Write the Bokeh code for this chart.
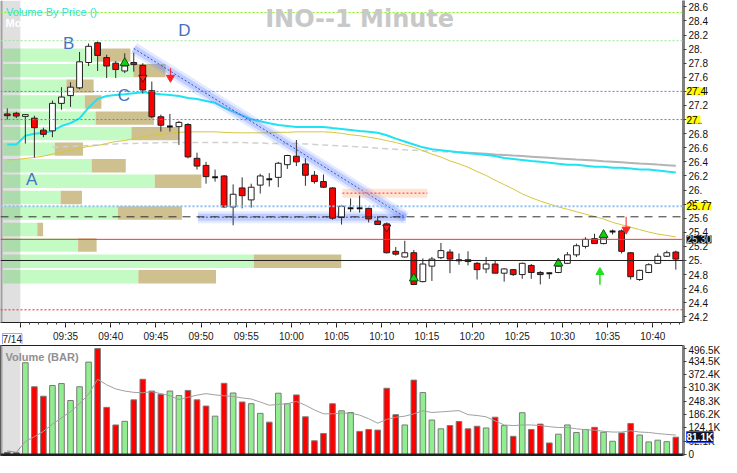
import math
from bokeh.plotting import figure
from bokeh.layouts import column
from bokeh.models import Range1d, FixedTicker, Span, Label
from bokeh.embed import file_html
from bokeh.resources import INLINE
from bokeh.core.properties import value

FONT = "Liberation Sans"

# ---------------- data (1-minute bars, first bar 09:28, INO 7/14) ----------------
opens = [27.08, 27.09, 27.045, 27.02, 26.85, 26.84, 27.23, 27.34, 27.45, 27.81,
         28.09, 27.88, 27.80, 27.69, 27.81, 27.77, 27.41, 27.04, 26.90, 26.90,
         26.93, 26.45, 26.35, 26.18, 26.20, 25.76, 26.03, 25.86, 26.07, 26.155,
         26.18, 26.36, 26.48, 26.37, 26.21, 26.12, 26.03, 25.61, 25.74, 25.745,
         25.74, 25.56, 25.52, 25.13, 25.05, 25.11, 24.70, 24.92, 25.04, 25.12,
         25.005, 25.01, 24.96, 24.88, 24.95, 24.82, 24.87, 24.80, 24.93, 24.83,
         24.82, 24.83, 24.96, 25.08, 25.20, 25.31, 25.24, 25.41, 25.42, 25.11,
         24.73, 24.83, 24.96, 25.06, 25.12]
highs = [27.16, 27.11, 27.07, 27.055, 26.885, 27.27, 27.46, 27.53, 27.96, 28.08,
         28.11, 27.92, 27.83, 27.94, 27.95, 27.80, 27.54, 27.07, 27.08, 26.98,
         26.95, 26.53, 26.40, 26.29, 26.21, 26.08, 26.18, 26.09, 26.23, 26.24,
         26.40, 26.50, 26.71, 26.45, 26.27, 26.22, 26.04, 25.79, 25.88, 25.92,
         25.75, 25.63, 25.54, 25.19, 25.28, 25.15, 25.03, 25.05, 25.25, 25.16,
         25.10, 25.13, 24.98, 25.05, 25.00, 24.89, 24.88, 24.97, 24.95, 24.85,
         24.83, 24.94, 25.12, 25.24, 25.33, 25.38, 25.42, 25.44, 25.44, 25.12,
         24.87, 24.96, 25.10, 25.14, 25.14]
lows = [27.00, 27.02, 26.66, 26.46, 26.75, 26.75, 27.14, 27.18, 27.43, 27.76,
        27.69, 27.59, 27.59, 27.66, 27.68, 27.37, 27.02, 26.83, 26.83, 26.64,
        26.45, 26.29, 26.09, 26.12, 25.75, 25.50, 25.74, 25.75, 25.95, 26.05,
        26.04, 26.30, 26.34, 26.06, 26.09, 26.03, 25.58, 25.51, 25.69, 25.68,
        25.54, 25.51, 25.10, 25.07, 25.04, 24.65, 24.69, 24.71, 25.02, 24.82,
        24.94, 24.93, 24.73, 24.82, 24.82, 24.70, 24.78, 24.74, 24.74, 24.66,
        24.74, 24.82, 24.95, 25.05, 25.17, 25.24, 25.23, 25.37, 25.10, 24.73,
        24.71, 24.82, 24.95, 25.05, 24.87]
closes = [27.055, 27.05, 27.07, 26.885, 26.79, 27.23, 27.32, 27.46, 27.82, 28.04,
          27.91, 27.76, 27.71, 27.76, 27.78, 27.42, 27.04, 26.92, 26.905, 26.96,
          26.47, 26.34, 26.19, 26.185, 25.76, 25.94, 25.92, 26.04, 26.20, 26.15,
          26.38, 26.49, 26.40, 26.21, 26.12, 26.04, 25.60, 25.77, 25.745, 25.74,
          25.59, 25.51, 25.11, 25.09, 25.11, 24.66, 24.95, 25.02, 25.14, 25.02,
          25.00, 24.985, 24.87, 24.95, 24.82, 24.88, 24.80, 24.96, 24.83, 24.80,
          24.815, 24.92, 25.08, 25.21, 25.30, 25.24, 25.32, 25.415, 25.13, 24.77,
          24.86, 24.94, 25.06, 25.11, 25.02]
volumes_k = [10, 8, 428, 316, 272, 322, 331, 252, 316, 431,
             494, 220, 138, 155, 255, 351, 296, 281, 296, 275,
             299, 255, 226, 179, 332, 287, 245, 237, 192, 151,
             286, 237, 278, 176, 64, 98, 237, 204, 196, 108,
             117, 114, 309, 186, 138, 347, 289, 161, 120, 135,
             154, 120, 132, 124, 174, 135, 85, 195, 117, 142,
             54, 95, 138, 103, 117, 127, 104, 62, 101, 145,
             91, 59, 67, 60, 81.1]
volume_ma_k = [17, 10, 61, 83, 108, 142, 171, 200, 237, 281,
               351, 325, 306, 296, 290, 288, 293, 284, 274, 256,
               267, 277, 284, 278, 274, 271, 264, 259, 245, 230,
               234, 237, 248, 230, 208, 190, 190, 193, 193, 184,
               167, 146, 164, 174, 179, 190, 204, 196, 199, 202,
               205, 186, 182, 176, 157, 138, 135, 138, 138, 135,
               130, 126, 126, 120, 116, 114, 108, 105, 105, 111,
               105, 103, 98, 94, 91]
ma_cyan = [26.647, 26.647, 26.771, 26.798, 26.812, 26.839, 26.908, 26.949, 27.018, 27.169,
           27.293, 27.334, 27.348, 27.361, 27.375, 27.389, 27.375, 27.361, 27.348, 27.334,
           27.306, 27.293, 27.265, 27.238, 27.169, 27.114, 27.059, 27.004, 26.977, 26.949,
           26.922, 26.908, 26.894, 26.894, 26.894, 26.894, 26.880, 26.867, 26.853, 26.839,
           26.826, 26.812, 26.778, 26.729, 26.688, 26.647, 26.606, 26.578, 26.565, 26.551,
           26.537, 26.523, 26.510, 26.496, 26.482, 26.455, 26.441, 26.427, 26.413, 26.400,
           26.386, 26.372, 26.359, 26.359, 26.345, 26.331, 26.331, 26.317, 26.317, 26.304,
           26.290, 26.290, 26.276, 26.262, 26.249]
ma_yellow = [26.427, 26.434, 26.448, 26.462, 26.482, 26.510, 26.537, 26.565, 26.592, 26.620,
             26.633, 26.661, 26.688, 26.702, 26.729, 26.757, 26.777, 26.791, 26.805, 26.819,
             26.826, 26.826, 26.826, 26.826, 26.819, 26.812, 26.812, 26.812, 26.812, 26.812,
             26.819, 26.819, 26.826, 26.826, 26.826, 26.826, 26.819, 26.805, 26.784, 26.771,
             26.750, 26.729, 26.702, 26.674, 26.640, 26.606, 26.558, 26.510, 26.468, 26.413,
             26.372, 26.324, 26.262, 26.207, 26.139, 26.077, 26.015, 25.946, 25.891, 25.843,
             25.802, 25.761, 25.727, 25.692, 25.658, 25.624, 25.589, 25.541, 25.507, 25.473,
             25.438, 25.404, 25.376, 25.356, 25.335]
ma_grey = [float("nan")] * 5 + [
    26.606, 26.613, 26.620, 26.626, 26.633, 26.640, 26.647, 26.654, 26.661, 26.661,
    26.668, 26.668, 26.674, 26.674, 26.674, 26.674, 26.674, 26.674, 26.674, 26.674,
    26.674, 26.674, 26.668, 26.668, 26.661, 26.661, 26.661, 26.661, 26.654, 26.647,
    26.640, 26.633, 26.626, 26.620, 26.613, 26.606, 26.592, 26.585, 26.578, 26.571,
    26.565, 26.558, 26.551, 26.544, 26.537, 26.537, 26.530, 26.522, 26.514, 26.505,
    26.499, 26.490, 26.482, 26.474, 26.466, 26.457, 26.449, 26.441, 26.433, 26.426,
    26.418, 26.409, 26.401, 26.393, 26.385, 26.376, 26.370, 26.361, 26.353, 26.345]

# volume by price (thousand shares per price row: up / down)
vbp_price = [27.915, 27.695, 27.475, 27.25, 27.02, 26.80, 26.58, 26.345,
             26.125, 25.895, 25.675, 25.44, 25.22, 24.99, 24.77]
vbp_up_k = [630, 871, 423, 546, 618, 858, 345, 592, 1014, 384, 767, 228, 501, 1677, 904]
vbp_down_k = [221, 215, 182, 111, 390, 319, 189, 228, 312, 143, 429, 39, 124, 585, 520]

# horizontal levels
level_prices = [28.52, 28.12, 27.4, 27.0, 25.77, 25.62, 25.3, 25.0, 24.3]
# trend lines (bar index, price)
trend_diag = ([14.0, 44.1], [28.01, 25.61])
trend_flat = ([21.1, 44.1], [25.615, 25.615])
orange_line = ([37.1, 46.5], [25.956, 25.956])
# signals
buy_tri_bar = [13, 45, 61, 66]
buy_tri_price = [27.805, 24.747, 24.96, 25.365]
sell_tri_bar = [15, 42]
sell_tri_price = [27.595, 25.47]
sell_arrow_bar = [18.06, 68.5]
sell_arrow_from = [27.73, 25.62]
sell_arrow_to = [27.595, 25.44]
buy_arrow_bar = [65.6]
buy_arrow_from = [24.655]
buy_arrow_to = [24.834]
letters = ["A", "B", "C", "D"]
letter_bar = [2.7, 6.8, 12.9, 19.6]
letter_price = [26.153, 28.075, 27.348, 28.268]

price_ticks = [24.2, 24.4, 24.6, 24.8, 25.0, 25.2, 25.4, 25.6, 25.8, 26.0, 26.2, 26.4,
               26.6, 26.8, 27.0, 27.2, 27.4, 27.6, 27.8, 28.0, 28.2, 28.4, 28.6]
price_tick_labels = ["24.2", "24.4", "24.6", "24.8", "25.", "25.2", "25.4", "25.6", "25.8",
                     "26.", "26.2", "26.4", "26.6", "26.8", "27.", "27.2", "27.4", "27.6",
                     "27.8", "28.", "28.2", "28.4", "28.6"]
time_labels = ["", "09:35", "09:40", "09:45", "09:50", "09:55", "10:00", "10:05",
               "10:10", "10:15", "10:20", "10:25", "10:30", "10:35", "10:40"]
vol_ticks = [0, 62.07, 124.13, 186.2, 248.27, 310.33, 372.4, 434.47, 496.53]
vol_tick_labels = ["0", "62.1K", "124.1K", "186.2K", "248.3K", "310.3K", "372.4K", "434.5K", "496.5K"]

# ---------------- layout constants ----------------
n = len(opens)
idx = list(range(n))
X0, X1 = -0.75, 74.85
PY0, PY1 = 24.12, 28.69
VY0, VY1 = -4.4, 508.4
PRE_END = 1.45
BODY_W = 0.64
FW = 683
K_PER_UNIT = 60.45
VBP_LEFT = X0 + 0.3

p = figure(frame_width=FW, frame_height=322, x_range=Range1d(X0, X1), y_range=Range1d(PY0, PY1),
           output_backend="svg", toolbar_location=None, y_axis_location="right",
           min_border_left=0, min_border_right=38, min_border_top=0, min_border_bottom=20)
p.grid.visible = False
p.outline_line_color = None
p.background_fill_color = "white"
p.border_fill_color = "white"

# volume by price rows
g_right = [VBP_LEFT + u / K_PER_UNIT for u in vbp_up_k]
t_right = [g + d / K_PER_UNIT for g, d in zip(g_right, vbp_down_k)]
p.hbar(y=vbp_price, left=VBP_LEFT, right=g_right, height=0.19, fill_color="#c4fbc4", line_color=None)
p.hbar(y=vbp_price, left=g_right, right=t_right, height=0.19, fill_color="#cfc090", line_color=None)

# pre-market shading
p.quad(left=[X0], right=[PRE_END], bottom=[PY0], top=[PY1], fill_color="black", fill_alpha=0.12, line_color=None)
p.add_layout(Span(location=X0, dimension="height", line_color="#a0a0a0", line_width=4))

# levels
lvl_styles = [("#7cfc00", "2 2", 1), ("#98e898", "2 2", 1), ("#3c8cf0", "2 2", 1), ("#3c8cf0", "2 2", 1),
              ("#8cc0f8", "2 2", 2), ("#303030", "8 6", 1), ("#ff3030", "solid", 1), ("#202020", "solid", 1),
              ("#ff2020", "2 2", 1)]
for lv, (c, d, w) in zip(level_prices, lvl_styles):
    p.add_layout(Span(location=lv, dimension="width", line_color=c, line_dash=d, line_width=w))

# moving averages
p.line(idx[:51], ma_grey[:51], line_color="#d0d0d0", line_width=1.5, line_dash="6 4")
p.line(idx[50:], ma_grey[50:], line_color="#b4b4b4", line_width=2)
p.line(idx, ma_yellow, line_color="#d6c63c", line_width=1)
p.line(idx, ma_cyan, line_color="#1ee3f2", line_width=2)

# glow trend lines
for xs, ys in (trend_diag, trend_flat):
    p.line(xs, ys, line_color="#6a8cff", line_width=12, line_alpha=0.18)
    p.line(xs, ys, line_color="#6a8cff", line_width=7, line_alpha=0.3)
    p.line(xs, ys, line_color="#3050c8", line_width=1, line_dash="2 2")
p.line(orange_line[0], orange_line[1], line_color="#ffb080", line_width=9, line_alpha=0.35)
p.line(orange_line[0], orange_line[1], line_color="#ff3030", line_width=1, line_dash="2 2")

# candles
p.segment(x0=idx, y0=highs, x1=idx, y1=lows, line_color="#303030", line_width=1)
body_x, body_top, body_bot, body_col = [], [], [], []
doji_x0, doji_x1, doji_y = [], [], []
for i in idx:
    o, c = opens[i], closes[i]
    if abs(c - o) < 0.012:
        doji_x0.append(i - BODY_W / 2)
        doji_x1.append(i + BODY_W / 2)
        doji_y.append((o + c) / 2)
    else:
        body_x.append(i)
        body_top.append(max(o, c))
        body_bot.append(min(o, c))
        body_col.append("#ffffff" if c > o else "#ff0000")
p.vbar(x=body_x, top=body_top, bottom=body_bot, width=BODY_W, fill_color=body_col, line_color="#202020", line_width=1)
p.segment(x0=doji_x0, y0=doji_y, x1=doji_x1, y1=doji_y, line_color="#101010", line_width=2)

# signals
p.scatter(buy_tri_bar, buy_tri_price, marker="triangle", size=9, fill_color="#10d010", line_color="#105010")
p.scatter(sell_tri_bar, sell_tri_price, marker="inverted_triangle", size=8, fill_color="#ff2020", line_color="#501010")
p.segment(x0=sell_arrow_bar, y0=sell_arrow_from, x1=sell_arrow_bar, y1=sell_arrow_to, line_color="#ff2020", line_width=1)
p.scatter(sell_arrow_bar, sell_arrow_to, marker="inverted_triangle", size=8, fill_color="#ff2020", line_color="#ff2020")
p.segment(x0=buy_arrow_bar, y0=buy_arrow_from, x1=buy_arrow_bar, y1=buy_arrow_to, line_color="#20e020", line_width=1.5)
p.scatter(buy_arrow_bar, buy_arrow_to, marker="triangle", size=8, fill_color="#20e020", line_color="#20e020")

# letters
p.text(x=letter_bar, y=letter_price, text=letters, text_font=value(FONT), text_font_size="17px",
       text_color="#4472c4", text_align="center", text_baseline="middle")

# texts
p.add_layout(Label(x=39.0, y=28.43, text="INO--1 Minute", text_font="DejaVu Sans", text_font_size="24px",
                   text_font_style="bold", text_color="#c8c8c8", text_align="center", text_baseline="middle"))
p.add_layout(Label(x=-0.15, y=28.52, text="Volume By Price ()", text_font=FONT, text_font_size="11px",
                   text_color="#30dede", text_baseline="middle"))
p.add_layout(Label(x=-0.2, y=28.37, text="Moving Average", text_font=FONT, text_font_size="11px",
                   text_font_style="bold", text_color="white", text_baseline="middle"))

# axes
ya = p.yaxis[0]
ya.ticker = FixedTicker(ticks=price_ticks)
ya.major_label_overrides = {t: s for t, s in zip(price_ticks, price_tick_labels)}
ya.axis_line_color = "#808080"
ya.axis_line_width = 3
ya.major_tick_in = 0
ya.major_tick_out = 3
ya.major_tick_line_color = "#404040"
ya.minor_tick_line_color = None
ya.major_label_standoff = 2
ya.major_label_text_font = FONT
ya.major_label_text_font_size = "10px"
ya.major_label_text_color = "#101010"

time_tick_pos = [PRE_END + 5 * k for k in range(len(time_labels))]
minor_pos = [PRE_END + k for k in range(0, 74)]
xa = p.xaxis[0]
xa.ticker = FixedTicker(ticks=time_tick_pos, minor_ticks=minor_pos)
xa.major_label_overrides = {t: s for t, s in zip(time_tick_pos, time_labels)}
xa.axis_line_color = "#202020"
xa.major_tick_in = 0
xa.major_tick_out = 5
xa.minor_tick_in = 0
xa.minor_tick_out = 2
xa.major_tick_line_color = "#202020"
xa.minor_tick_line_color = "#404040"
xa.major_label_standoff = 3
xa.major_label_text_font = FONT
xa.major_label_text_font_size = "10px"
xa.major_label_text_color = "#202020"

# right-axis tags (placed in a side panel so they are not clipped to the frame)
for y, t in ((27.4, "27.4"), (27.0, "27."), (25.77, "25.77")):
    p.add_layout(Label(x=X1, y=y, x_offset=3, text=t, text_font=FONT, text_font_size="10px",
                       text_color="black", background_fill_color="#ffff00", text_baseline="middle"), "right")
p.add_layout(Label(x=X1, y=25.3, x_offset=3, text="25.30", text_font=FONT, text_font_size="10px",
                   text_color="#d8d8d8", background_fill_color="#101010", text_baseline="middle"), "right")
p.add_layout(Label(x=0.55, y=23.885, text="7/14", text_font=FONT, text_font_size="10px", text_color="#202020",
                   text_align="center", text_baseline="middle", border_line_color="#5060ff",
                   border_line_alpha=0.6), "right")

# ---------------- volume panel ----------------
v = figure(frame_width=FW, frame_height=110, x_range=p.x_range, y_range=Range1d(VY0, VY1),
           output_backend="svg", toolbar_location=None, y_axis_location="right", x_axis_location=None,
           min_border_left=0, min_border_right=38, min_border_top=1, min_border_bottom=4)
v.grid.visible = False
v.outline_line_color = "#202020"
v.border_fill_color = "white"

vcol = ["#90ee90" if closes[i] >= opens[i] else "#ff0000" for i in idx]
v.vbar(x=idx, top=volumes_k, width=0.62, fill_color=vcol, line_color="#7a7a7a", line_width=1)
v.line(idx, volume_ma_k, line_color="#a0a0a0", line_width=1)
v.quad(left=[X0], right=[PRE_END], bottom=[VY0], top=[VY1], fill_color="black", fill_alpha=0.12, line_color=None)
v.add_layout(Span(location=X0, dimension="height", line_color="#a0a0a0", line_width=4))
v.add_layout(Span(location=0, dimension="width", line_color="#202020", line_width=2))
v.add_layout(Label(x=-0.2, y=455, text="Volume (BAR)", text_font=FONT, text_font_size="11px",
                   text_font_style="bold", text_color="#909090", text_baseline="middle"))

va = v.yaxis[0]
va.ticker = FixedTicker(ticks=vol_ticks)
va.major_label_overrides = {t: s for t, s in zip(vol_ticks, vol_tick_labels)}
va.axis_line_color = "#808080"
va.axis_line_width = 3
va.major_tick_in = 0
va.major_tick_out = 3
va.major_tick_line_color = "#404040"
va.minor_tick_line_color = None
va.major_label_standoff = 2
va.major_label_text_font = FONT
va.major_label_text_font_size = "10px"
va.major_label_text_color = "#101010"
v.add_layout(Label(x=X1, y=volumes_k[-1], x_offset=3, text="81.1K", text_font=FONT, text_font_size="10px",
                   text_font_style="bold", text_color="white", background_fill_color="#101010",
                   border_line_color="#3050ff", text_baseline="middle"), "right")

layout = column(p, v, spacing=0)
open("out.html", "w").write(file_html(layout, INLINE))
